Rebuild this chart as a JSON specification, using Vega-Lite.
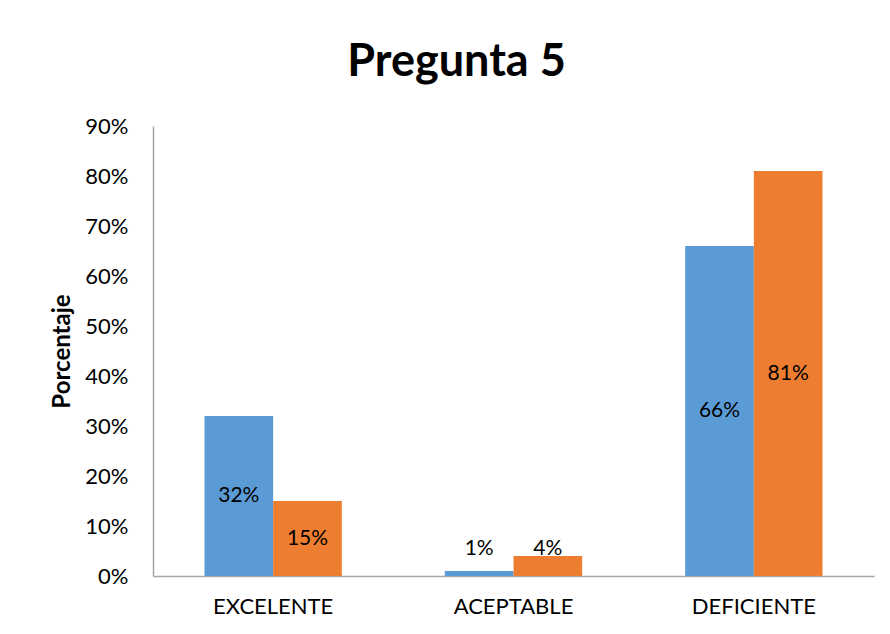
{
  "$schema": "https://vega.github.io/schema/vega-lite/v6.json",
  "autosize": {"type": "none"},
  "width": 721,
  "height": 450,
  "padding": {"left": 153, "top": 126, "right": 16, "bottom": 58},
  "background": "white",
  "title": {
    "text": "Pregunta 5",
    "font": "Lato",
    "fontSize": 45,
    "fontWeight": "bold",
    "color": "#000000",
    "anchor": "middle",
    "dx": -57,
    "offset": 30
  },
  "data": {
    "values": [
      {"categoria": "EXCELENTE", "serie": "Serie 1", "valor": 0.32},
      {"categoria": "EXCELENTE", "serie": "Serie 2", "valor": 0.15},
      {"categoria": "ACEPTABLE", "serie": "Serie 1", "valor": 0.01},
      {"categoria": "ACEPTABLE", "serie": "Serie 2", "valor": 0.04},
      {"categoria": "DEFICIENTE", "serie": "Serie 1", "valor": 0.66},
      {"categoria": "DEFICIENTE", "serie": "Serie 2", "valor": 0.81}
    ]
  },
  "config": {
    "view": {"stroke": null},
    "font": "Lato"
  },
  "encoding": {
    "x": {
      "field": "categoria",
      "type": "nominal",
      "sort": ["EXCELENTE", "ACEPTABLE", "DEFICIENTE"],
      "scale": {"paddingInner": 0, "paddingOuter": 0},
      "axis": {
        "title": null,
        "labelAngle": 0,
        "labelFont": "Lato",
        "labelFontSize": 22,
        "labelColor": "#000000",
        "labelPadding": 20,
        "ticks": false,
        "domainColor": "#a6a6a6",
        "domainWidth": 1.5
      }
    },
    "xOffset": {
      "field": "serie",
      "type": "nominal",
      "scale": {"paddingInner": 0, "paddingOuter": 0.75}
    }
  },
  "layer": [
    {
      "mark": {"type": "bar"},
      "encoding": {
        "y": {
          "field": "valor",
          "type": "quantitative",
          "scale": {"domain": [0, 0.9], "nice": false},
          "axis": {
            "title": "Porcentaje",
            "titleFont": "Lato",
            "titleFontSize": 24,
            "titleFontWeight": "bold",
            "titleColor": "#000000",
            "titlePadding": 10,
            "format": ".0%",
            "values": [0, 0.1, 0.2, 0.3, 0.4, 0.5, 0.6, 0.7, 0.8, 0.9],
            "labelFont": "Lato",
            "labelFontSize": 22,
            "labelColor": "#000000",
            "labelPadding": 25,
            "ticks": false,
            "grid": false,
            "domainColor": "#a6a6a6",
            "domainWidth": 1.5
          }
        },
        "color": {
          "field": "serie",
          "type": "nominal",
          "scale": {"range": ["#5B9BD5", "#ED7D31"]},
          "legend": null
        }
      }
    },
    {
      "transform": [
        {"calculate": "max(datum.valor / 2, 0.054)", "as": "pos_etiqueta"}
      ],
      "mark": {
        "type": "text",
        "font": "Lato",
        "fontSize": 21,
        "color": "#000000",
        "baseline": "middle",
        "align": "center"
      },
      "encoding": {
        "y": {"field": "pos_etiqueta", "type": "quantitative"},
        "text": {"field": "valor", "type": "quantitative", "format": ".0%"}
      }
    }
  ]
}
